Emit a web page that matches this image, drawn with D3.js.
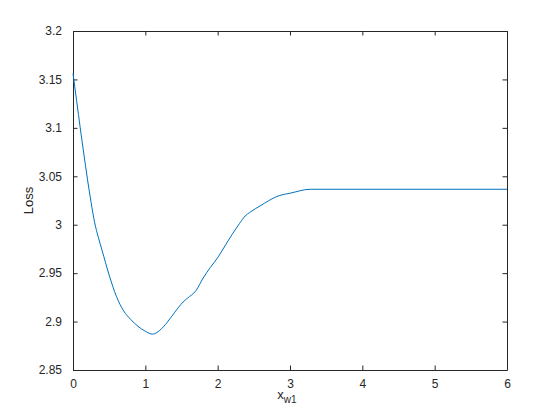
<!DOCTYPE html>
<html>
<head>
<meta charset="utf-8">
<script src="https://cdn.jsdelivr.net/npm/d3@7"></script>
<style>
  body { margin: 0; background: #fff; }
  svg { display: block; font-family: "Liberation Sans", Arial, sans-serif; }
</style>
</head>
<body>
<div id="chart"></div>
<script>
// values
const xVals = [0, 0.05, 0.1, 0.15, 0.2, 0.25, 0.3, 0.35, 0.4, 0.5, 0.6, 0.7, 0.8, 0.9, 1.0, 1.1, 1.2, 1.3, 1.4, 1.52, 1.58, 1.7, 1.8, 1.9, 2.0, 2.1, 2.2, 2.3, 2.38, 2.44, 2.6, 2.8, 2.85, 3.0, 3.28, 6];
const lossVals = [3.156, 3.128, 3.100, 3.073, 3.047, 3.023, 3.002, 2.987, 2.974, 2.948, 2.926, 2.911, 2.902, 2.895, 2.890, 2.887, 2.891, 2.899, 2.909, 2.920, 2.924, 2.932, 2.945, 2.956, 2.966, 2.978, 2.990, 3.001, 3.009, 3.0125, 3.020, 3.0285, 3.030, 3.0325, 3.0366, 3.0366];
const xTicks = [0, 1, 2, 3, 4, 5, 6];
const yTicks = [2.85, 2.9, 2.95, 3, 3.05, 3.1, 3.15, 3.2];

const width = 560, height = 420;
const mLeft = 73, mRight = 507, mTop = 31, mBottom = 370;
const axisColor = "#262626";

const svg = d3.select("#chart").append("svg")
    .attr("width", width)
    .attr("height", height);

const x = d3.scaleLinear().domain([0, 6]).range([mLeft, mRight]);
const y = d3.scaleLinear().domain([2.85, 3.2]).range([mBottom, mTop]);

// bottom + top axes
svg.append("g")
    .attr("transform", "translate(0," + mBottom + ")")
    .call(d3.axisBottom(x).tickValues(xTicks).tickFormat(d3.format("")).tickSizeInner(-4.5).tickSizeOuter(0).tickPadding(9));
svg.append("g")
    .attr("transform", "translate(0," + mTop + ")")
    .call(d3.axisTop(x).tickValues(xTicks).tickFormat("").tickSizeInner(-4.5).tickSizeOuter(0));

// left + right axes
svg.append("g")
    .attr("transform", "translate(" + mLeft + ",0)")
    .call(d3.axisLeft(y).tickValues(yTicks).tickFormat(d3.format("")).tickSizeInner(-4.5).tickSizeOuter(0).tickPadding(11));
svg.append("g")
    .attr("transform", "translate(" + mRight + ",0)")
    .call(d3.axisRight(y).tickValues(yTicks).tickFormat("").tickSizeInner(-4.5).tickSizeOuter(0));

svg.selectAll(".domain, .tick line").attr("stroke", axisColor).attr("stroke-width", 1);
svg.selectAll(".tick text").attr("fill", axisColor).style("font-size", "12px");

const line = d3.line()
    .x(function(d, i) { return x(xVals[i]); })
    .y(function(d) { return y(d); })
    .curve(d3.curveMonotoneX);

svg.append("path")
    .datum(lossVals)
    .attr("d", line)
    .attr("fill", "none")
    .attr("stroke", "#0072BD")
    .attr("stroke-width", 1);

// axis labels
const xl = svg.append("text")
    .attr("x", (mLeft + mRight) / 2 - 3)
    .attr("y", 399)
    .attr("text-anchor", "middle")
    .attr("fill", axisColor)
    .style("font-size", "13px");
xl.append("tspan").text("x");
xl.append("tspan").attr("dy", 4).style("font-size", "10px").text("w1");

svg.append("text")
    .attr("transform", "translate(33," + ((mTop + mBottom) / 2) + ") rotate(-90)")
    .attr("text-anchor", "middle")
    .attr("fill", axisColor)
    .style("font-size", "13px")
    .text("Loss");
</script>
</body>
</html>
